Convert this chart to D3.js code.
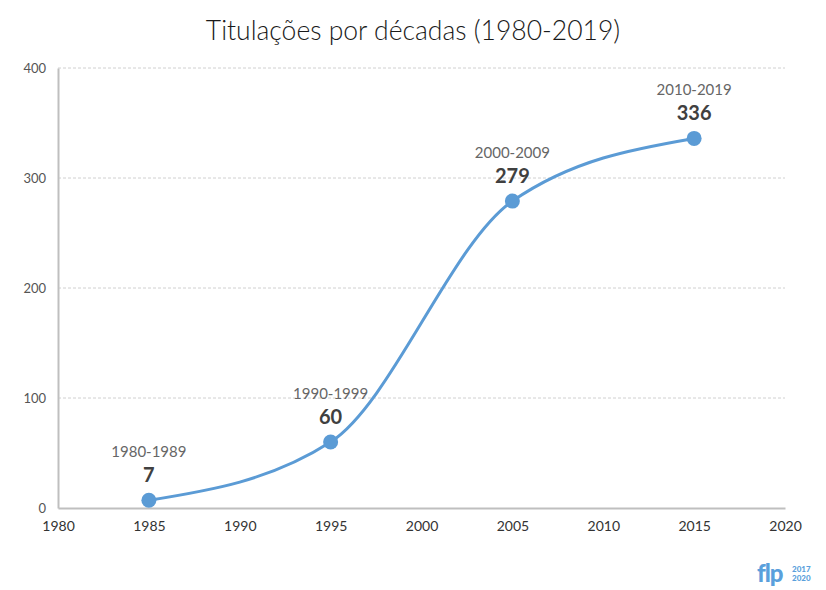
<!DOCTYPE html>
<html><head><meta charset="utf-8">
<script src="https://cdn.jsdelivr.net/npm/d3@7"></script>
<style>body{margin:0;background:#fff}svg{display:block}</style>
</head><body>
<svg id="c" width="826" height="590"></svg>
<script>
const years = [1985, 1995, 2005, 2015];
const values = [7, 60, 279, 336];
const decades = ["1980-1989", "1990-1999", "2000-2009", "2010-2019"];
const xTicks = [1980, 1985, 1990, 1995, 2000, 2005, 2010, 2015, 2020];
const yTicks = [0, 100, 200, 300, 400];
const title = "Titulações por décadas (1980-2019)";

const svg = d3.select("#c");
const font = "Lato, 'Open Sans', sans-serif";
const x = d3.scaleLinear().domain([1980, 2020]).range([58, 785]);
const y = d3.scaleLinear().domain([0, 400]).range([508, 68]);
const color = "#5b9bd5";

svg.append("text").attr("x", 413).attr("y", 40).attr("text-anchor", "middle")
  .attr("font-family", font).attr("font-weight", 300).attr("font-size", 26.5).attr("fill", "#1a1a1a").text(title);

// grid
svg.append("g").selectAll("line").data(yTicks.filter(d => d > 0)).join("line")
  .attr("x1", x(1980)).attr("x2", x(2020)).attr("y1", d => y(d)).attr("y2", d => y(d))
  .attr("stroke", "#d0d0d0").attr("stroke-dasharray", "3,2").attr("stroke-width", 1);

// y axis
const ya = svg.append("g").attr("transform", `translate(${x(1980)},0)`)
  .call(d3.axisLeft(y).tickValues(yTicks).tickSize(0).tickPadding(12));
ya.select(".domain").attr("stroke", "#bfbfbf").attr("stroke-width", 2);
ya.selectAll("text").attr("font-family", font).attr("font-size", 13).attr("fill", "#555");

// x axis
const xa = svg.append("g").attr("transform", `translate(0,${y(0)})`)
  .call(d3.axisBottom(x).tickValues(xTicks).tickFormat(d3.format("d")).tickSize(0).tickPadding(13));
xa.select(".domain").attr("stroke", "#bfbfbf").attr("stroke-width", 2);
xa.selectAll("text").attr("font-family", font).attr("font-size", 14).attr("fill", "#333");

const data = years.map((yr, i) => ({yr, v: values[i], d: decades[i]}));
const line = d3.line().x(d => x(d.yr)).y(d => y(d.v)).curve(d3.curveMonotoneX);
svg.append("path").datum(data).attr("d", line).attr("fill", "none")
  .attr("stroke", color).attr("stroke-width", 3);

svg.append("g").selectAll("circle").data(data).join("circle")
  .attr("cx", d => x(d.yr)).attr("cy", d => y(d.v)).attr("r", 7.5).attr("fill", color);

svg.append("g").selectAll("text").data(data).join("text")
  .attr("x", d => x(d.yr)).attr("y", d => y(d.v) - 43).attr("text-anchor", "middle")
  .attr("font-family", font).attr("font-size", 15).attr("fill", "#666").text(d => d.d);
svg.append("g").selectAll("text").data(data).join("text")
  .attr("x", d => x(d.yr)).attr("y", d => y(d.v) - 18).attr("text-anchor", "middle")
  .attr("font-family", font).attr("font-weight", 700).attr("font-size", 20).attr("fill", "#404040").text(d => d.v);

// logo
const lg = svg.append("g").attr("fill", "#5aa0dc").attr("font-family", font).attr("font-weight", 900);
lg.append("text").attr("x", 757).attr("y", 582).attr("font-size", 24).attr("letter-spacing", -1).text("flp");
lg.append("text").attr("x", 792).attr("y", 572).attr("font-size", 8).text("2017");
lg.append("text").attr("x", 792).attr("y", 581).attr("font-size", 8).text("2020");
</script>
</body></html>
